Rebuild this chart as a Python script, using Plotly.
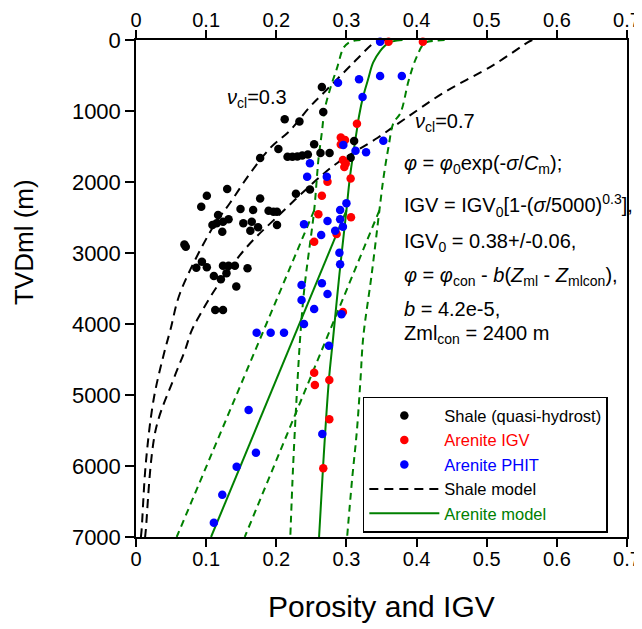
import plotly.graph_objects as go

# ---------------- data ----------------
shale_phi = [0.265, 0.267, 0.212, 0.233, 0.203, 0.177, 0.216, 0.223, 0.230, 0.237, 0.245,
             0.254, 0.263, 0.276, 0.311, 0.306, 0.228, 0.248, 0.130, 0.101, 0.177, 0.093,
             0.149, 0.167, 0.189, 0.196, 0.201, 0.117, 0.132, 0.109, 0.115, 0.124, 0.123,
             0.153, 0.165, 0.163, 0.174, 0.201, 0.071, 0.069, 0.094, 0.086, 0.101, 0.124,
             0.132, 0.141, 0.159, 0.111, 0.129, 0.121, 0.143, 0.113, 0.124]
shale_depth = [662, 1014, 1117, 1148, 1535, 1662, 1644, 1645, 1641, 1627, 1613,
               1468, 1592, 1592, 1423, 1658, 2166, 2106, 2099, 2193, 2232, 2348,
               2380, 2394, 2404, 2418, 2418, 2465, 2525, 2606, 2582, 2559, 2700,
               2582, 2559, 2686, 2638, 2606, 2911, 2880, 3122, 3207, 3201, 3179,
               3179, 3179, 3215, 3324, 3286, 3370, 3472, 3803, 3803]

igv_phi = [0.360, 0.409, 0.315, 0.292, 0.298, 0.292, 0.295, 0.299, 0.297, 0.306, 0.273,
           0.265, 0.260, 0.3065, 0.254, 0.286, 0.295, 0.254, 0.255, 0.2756, 0.2756, 0.267]
igv_depth = [24, 24, 1178, 1373, 1408, 1472, 1690, 1739, 1789, 1950, 1995,
             2193, 2455, 2497, 2840, 2732, 3830, 4686, 4859, 4789, 5340, 6033]

phit_phi = [0.348, 0.288, 0.318, 0.348, 0.379, 0.323, 0.2956, 0.313, 0.328, 0.3526, 0.248,
            0.244, 0.272, 0.300, 0.291, 0.273, 0.291, 0.295, 0.284, 0.2395, 0.264, 0.290,
            0.291, 0.236, 0.265, 0.273, 0.236, 0.254, 0.2395, 0.172, 0.192, 0.211, 0.293,
            0.275, 0.1606, 0.2656, 0.171, 0.1435, 0.123, 0.111]
phit_depth = [24, 601, 554, 507, 507, 803, 1479, 1559, 1582, 1418, 1737,
              1925, 1925, 2300, 2394, 2549, 2525, 2629, 2686, 2596, 2746, 2996,
              3159, 3451, 3427, 3577, 3662, 3789, 4000, 4122, 4122, 4122, 3864,
              4305, 5211, 5549, 5812, 6010, 6404, 6798]

# shale model curves (nu_cl = 0.3 and 0.7)
shale03_phi = [0.355, 0.341, 0.317, 0.300, 0.267, 0.248, 0.220, 0.191, 0.1625, 0.134, 0.110,
               0.063, 0.049, 0.039, 0.025, 0.014, 0.008, 0.007]
shale03_depth = [0, 30, 250, 420, 750, 940, 1270, 1525, 1880, 2296, 2630,
                 3560, 4085, 4450, 5070, 5960, 6900, 7000]
shale07_phi = [0.565, 0.559, 0.510, 0.438, 0.381, 0.344, 0.287, 0.262, 0.201, 0.158, 0.115,
               0.087, 0.079, 0.070, 0.053, 0.028, 0.014, 0.013]
shale07_depth = [0, 30, 350, 746, 1127, 1380, 1732, 1930, 2493, 2915, 3479,
                 3944, 4100, 4366, 4790, 5493, 6900, 7000]

# arenite IGV model curves (IGV0 = 0.38, 0.32, 0.44)
igv038_phi = [0.380, 0.372, 0.360, 0.348, 0.338, 0.331, 0.324, 0.318, 0.315, 0.305, 0.300,
              0.290, 0.281, 0.275, 0.267, 0.261]
igv038_depth = [0, 8, 40, 155, 320, 550, 790, 1070, 1260, 1930, 2400,
                3300, 4200, 4790, 5960, 7000]
igv032_phi = [0.320, 0.312, 0.303, 0.296, 0.286, 0.277, 0.269, 0.265, 0.260, 0.258, 0.254,
              0.240, 0.234, 0.229, 0.224, 0.220]
igv032_depth = [0, 8, 40, 108, 413, 680, 980, 1300, 1690, 1925, 2400,
                3500, 4200, 5030, 6000, 7000]
igv044_phi = [0.440, 0.430, 0.412, 0.400, 0.389, 0.377, 0.367, 0.360, 0.353, 0.347,
              0.336, 0.324, 0.320, 0.315, 0.308, 0.301]
igv044_depth = [0, 8, 40, 240, 560, 1028, 1170, 1507, 1930, 2400,
                3300, 4183, 4789, 5493, 6197, 7000]

# arenite chemical-compaction (linear) branches from Zml_con = 2400 m
lin038_phi = [0.300, 0.107]
lin032_phi = [0.254, 0.058]
lin044_phi = [0.347, 0.155]
lin_depth = [2400, 7000]

x_ticks = [0, 0.1, 0.2, 0.3, 0.4, 0.5, 0.6, 0.7]
y_ticks = [0, 1000, 2000, 3000, 4000, 5000, 6000, 7000]

FONT = "Arial, Liberation Sans, sans-serif"
GREEN = "#008000"

fig = go.Figure()

# model lines
black_dash = dict(color="black", width=2, dash="9px,6px")
green_dash = dict(color=GREEN, width=2, dash="7px,5px")
green_solid = dict(color=GREEN, width=2)

fig.add_trace(go.Scatter(x=shale03_phi, y=shale03_depth, mode="lines", line=black_dash,
                         line_shape="spline", name="Shale model", legendrank=4))
fig.add_trace(go.Scatter(x=shale07_phi, y=shale07_depth, mode="lines", line=black_dash,
                         line_shape="spline", showlegend=False))
fig.add_trace(go.Scatter(x=igv032_phi, y=igv032_depth, mode="lines", line=green_dash,
                         line_shape="spline", showlegend=False))
fig.add_trace(go.Scatter(x=igv044_phi, y=igv044_depth, mode="lines", line=green_dash,
                         line_shape="spline", showlegend=False))
fig.add_trace(go.Scatter(x=lin032_phi, y=lin_depth, mode="lines", line=green_dash, showlegend=False))
fig.add_trace(go.Scatter(x=lin044_phi, y=lin_depth, mode="lines", line=green_dash, showlegend=False))
fig.add_trace(go.Scatter(x=igv038_phi, y=igv038_depth, mode="lines", line=green_solid,
                         line_shape="spline",
                         name="<span style='color:#008000'>Arenite model</span>", legendrank=5))
fig.add_trace(go.Scatter(x=lin038_phi, y=lin_depth, mode="lines", line=green_solid, showlegend=False))

# data points
mk = dict(size=8.5)
fig.add_trace(go.Scatter(x=shale_phi, y=shale_depth, mode="markers", cliponaxis=False,
                         marker=dict(color="black", **mk), name="Shale (quasi-hydrost)", legendrank=1))
fig.add_trace(go.Scatter(x=igv_phi, y=igv_depth, mode="markers", cliponaxis=False,
                         marker=dict(color="#ff0000", **mk),
                         name="<span style='color:#ff0000'>Arenite IGV</span>", legendrank=2))
fig.add_trace(go.Scatter(x=phit_phi, y=phit_depth, mode="markers", cliponaxis=False,
                         marker=dict(color="#0000ff", **mk),
                         name="<span style='color:#0000ff'>Arenite PHIT</span>", legendrank=3))

# dummy trace to show the top axis
fig.add_trace(go.Scatter(x=[None], y=[None], xaxis="x2", showlegend=False, hoverinfo="skip"))

axis_common = dict(showgrid=False, zeroline=False, showline=True, linecolor="black", linewidth=1.5,
                   ticks="outside", tickcolor="black", tickwidth=1.5, automargin=False,
                   ticklabeloverflow="allow")
xfont = dict(family=FONT, size=20, color="black")
yfont = dict(family=FONT, size=22, color="black")

fig.update_layout(
    width=634, height=621,
    margin=dict(l=128, r=15, t=32, b=92),
    plot_bgcolor="white", paper_bgcolor="white",
    font=dict(family=FONT, color="black"),
    xaxis=dict(range=[0, 0.7], tickvals=x_ticks, ticklen=8, ticklabelstandoff=-5,
               tickfont=xfont, **axis_common),
    xaxis2=dict(range=[0, 0.7], tickvals=x_ticks, ticklen=8, ticklabelstandoff=-5,
                overlaying="x", side="top", anchor="y", tickfont=xfont, **axis_common),
    yaxis=dict(range=[7000, 0], tickvals=y_ticks, ticklen=9, mirror=True,
               tickfont=yfont, **axis_common),
    legend=dict(x=0.462, y=0.282, xanchor="left", yanchor="top",
                bgcolor="white", bordercolor="black", borderwidth=1.5,
                font=dict(family=FONT, size=16.5, color="black"),
                itemwidth=70, tracegroupgap=0),
    showlegend=True,
)

ann = []
# axis titles
ann.append(dict(text="Porosity and IGV", xref="paper", yref="paper", x=0.5, y=-0.1408,
                xanchor="center", yanchor="middle", showarrow=False,
                font=dict(family=FONT, size=30, color="black")))
ann.append(dict(text="TVDml (m)", xref="paper", yref="paper", x=-0.228, y=0.5936,
                xanchor="center", yanchor="middle", textangle=-90, showarrow=False,
                font=dict(family=FONT, size=26, color="black")))
# nu labels
ann.append(dict(text="<i>ν</i><sub>cl</sub>=0.3", xref="x", yref="y", x=0.127, y=830,
                xanchor="left", yanchor="middle", showarrow=False,
                font=dict(family=FONT, size=20, color="black")))
ann.append(dict(text="<i>ν</i><sub>cl</sub>=0.7", xref="x", yref="y", x=0.395, y=1160,
                xanchor="left", yanchor="middle", showarrow=False,
                font=dict(family=FONT, size=20, color="black")))
# formula lines
formula_lines = [
    ("<i>φ</i> = <i>φ</i><sub>0</sub>exp(-<i>σ</i>/<i>C</i><sub>m</sub>);", 1760),
    ("IGV = IGV<sub>0</sub>[1-(<i>σ</i>/5000)<sup>0.3</sup>],", 2330),
    ("IGV<sub>0</sub> = 0.38+/-0.06,", 2850),
    ("<i>φ</i> = <i>φ</i><sub>con</sub> - <i>b</i>(<i>Z</i><sub>ml</sub> - <i>Z</i><sub>mlcon</sub>),", 3330),
    ("<i>b</i> = 4.2e-5,", 3790),
    ("Zml<sub>con</sub> = 2400 m", 4150),
]
for txt, yy in formula_lines:
    ann.append(dict(text=txt, xref="x", yref="y", x=0.379, y=yy, xanchor="left",
                    yanchor="middle", showarrow=False,
                    font=dict(family=FONT, size=20, color="black")))
fig.update_layout(annotations=ann)

fig.write_html("out.html")
